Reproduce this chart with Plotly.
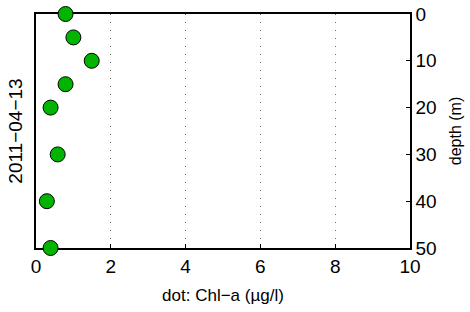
import plotly.graph_objects as go

chl = [0.79, 1.0, 1.49, 0.79, 0.39, 0.58, 0.29, 0.39]
depth = [0, 5, 10, 15, 20, 30, 40, 50]
x_ticks = [0, 2, 4, 6, 8, 10]
y_ticks = [0, 10, 20, 30, 40, 50]
date_label = "2011\u221204\u221213"

fig = go.Figure()
fig.add_trace(go.Scatter(
    x=chl, y=depth, mode="markers",
    marker=dict(size=15, color="#00b400", line=dict(color="black", width=1)),
    cliponaxis=False, showlegend=False,
))

font = "Liberation Sans, Arial, Helvetica, sans-serif"
fig.update_layout(
    width=470, height=312,
    margin=dict(l=36, r=60, t=14, b=64, autoexpand=False),
    paper_bgcolor="white", plot_bgcolor="white",
    font=dict(family=font, color="black", size=19),
    xaxis=dict(
        range=[0, 10], tickvals=x_ticks, ticktext=[str(v) for v in x_ticks],
        showline=True, linecolor="black", linewidth=1.5, mirror=True,
        ticks="inside", ticklen=4, tickcolor="black", tickwidth=1,
        showgrid=True, gridcolor="#666666", griddash="1px,7px", gridwidth=1,
        zeroline=False, layer="below traces", automargin=False,
        title=dict(text="dot: Chl\u2212a (\u00b5g/l)", font=dict(size=17), standoff=14),
        tickfont=dict(size=19),
    ),
    yaxis=dict(
        range=[50, 0], tickvals=y_ticks, side="right",
        showline=True, linecolor="black", linewidth=1.5, mirror=True,
        ticks="inside", ticklen=4, tickcolor="black", tickwidth=1,
        showgrid=False, zeroline=False, layer="below traces", automargin=False,
        title=dict(text="depth (m)", font=dict(size=16), standoff=14),
        tickfont=dict(size=19),
    ),
    annotations=[dict(
        text=date_label, textangle=-90, xref="paper", yref="paper",
        x=-0.057, y=0.5, xanchor="center", yanchor="middle",
        showarrow=False, font=dict(size=19),
    )],
)

fig.write_html(
    "out.html",
    config={"displayModeBar": False},
    post_script="document.body.style.margin='0';document.body.style.overflow='hidden';",
)
